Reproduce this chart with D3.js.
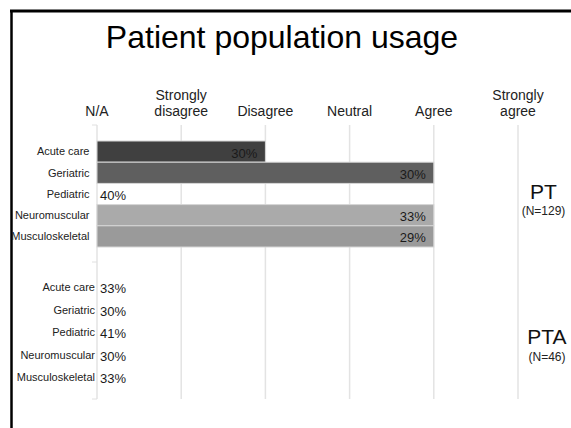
<!DOCTYPE html>
<html><head><meta charset="utf-8">
<script src="https://cdn.jsdelivr.net/npm/d3@7"></script>
<style>html,body{margin:0;padding:0;background:#fff;}svg{display:block;font-family:"Liberation Sans",Arial,sans-serif;}</style>
</head><body>
<script>
const title = "Patient population usage";
const levels = ["N/A", "Strongly\ndisagree", "Disagree", "Neutral", "Agree", "Strongly\nagree"];
const categories = ["Acute care", "Geriatric", "Pediatric", "Neuromuscular", "Musculoskeletal"];
const ptLevel = [2, 4, 0, 4, 4];
const ptPct = [30, 30, 40, 33, 29];
const ptaLevel = [0, 0, 0, 0, 0];
const ptaPct = [33, 30, 41, 30, 33];
const groups = [
  {name: "PT", n: "(N=129)", level: ptLevel, pct: ptPct},
  {name: "PTA", n: "(N=46)", level: ptaLevel, pct: ptaPct}
];
const barColors = ["#404040", "#5f5f5f", "#808080", "#aaaaaa", "#9a9a9a"];

const W = 571, H = 428;
const svg = d3.select("body").append("svg").attr("width", W).attr("height", H);

// slide border
svg.append("line").attr("x1", 10).attr("x2", W).attr("y1", 11).attr("y2", 11).attr("stroke", "#000").attr("stroke-width", 3);
svg.append("line").attr("x1", 11.5).attr("x2", 11.5).attr("y1", 10).attr("y2", H).attr("stroke", "#000").attr("stroke-width", 2.5);

svg.append("text").attr("x", 282).attr("y", 48).attr("text-anchor", "middle")
  .attr("font-size", 32).attr("fill", "#000").text(title);

const x = d3.scaleLinear().domain([0, 5]).range([97, 518]);
const plotTop = 125, plotBottom = 399, split = 262;

// grid lines
svg.append("g").selectAll("line").data(d3.range(levels.length)).join("line")
  .attr("x1", d => x(d)).attr("x2", d => x(d))
  .attr("y1", plotTop).attr("y2", plotBottom)
  .attr("stroke", "#e3e3e3").attr("stroke-width", 1.5);
// small axis ticks
svg.append("g").selectAll("line").data([plotTop, split, plotBottom]).join("line")
  .attr("x1", 92).attr("x2", 97).attr("y1", d => d).attr("y2", d => d)
  .attr("stroke", "#e0e0e0").attr("stroke-width", 1);

// column headers
const hdr = svg.append("g").attr("font-size", 14).attr("fill", "#222").attr("text-anchor", "middle");
levels.forEach((lab, i) => {
  const parts = lab.split("\n");
  const t = hdr.append("text").attr("x", x(i)).attr("y", 116 - (parts.length - 1) * 16);
  parts.forEach((p, j) => t.append("tspan").attr("x", x(i)).attr("dy", j === 0 ? 0 : 16).text(p));
});

const ranges = [[141, 247], [276, 388.5]];
const labelRight = [89.5, 95];
const nameY = [[199, 215], [344, 360.5]];
const nameX = [543.5, 547];

groups.forEach((g, gi) => {
  const y = d3.scaleBand().domain(categories).range(ranges[gi]).padding(0);
  const gg = svg.append("g");
  categories.forEach((c, i) => {
    const lv = g.level[i];
    if (lv > 0) {
      gg.append("rect").attr("x", x(0)).attr("y", y(c))
        .attr("width", x(lv) - x(0)).attr("height", y.bandwidth())
        .attr("fill", barColors[i]).attr("stroke", "#d6d6d6").attr("stroke-width", 1);
    }
  });
  categories.forEach((c, i) => {
    const lv = g.level[i];
    const cy = y(c) + y.bandwidth() / 2;
    gg.append("text").attr("x", labelRight[gi]).attr("y", cy).attr("dy", "0.35em")
      .attr("text-anchor", "end").attr("font-size", 11).attr("fill", "#222").text(c);
    gg.append("text")
      .attr("x", lv > 0 ? x(lv) - 8 : x(0) + 3)
      .attr("y", cy + 1.5).attr("dy", "0.35em")
      .attr("text-anchor", lv > 0 ? "end" : "start")
      .attr("font-size", 13).attr("fill", "#1a1a1a").text(g.pct[i] + "%");
  });
  gg.append("text").attr("x", nameX[gi]).attr("y", nameY[gi][0]).attr("text-anchor", "middle")
    .attr("font-size", 21).attr("fill", "#111").text(g.name);
  gg.append("text").attr("x", nameX[gi]).attr("y", nameY[gi][1]).attr("text-anchor", "middle")
    .attr("font-size", 12).attr("fill", "#222").text(g.n);
});
</script>
</body></html>
